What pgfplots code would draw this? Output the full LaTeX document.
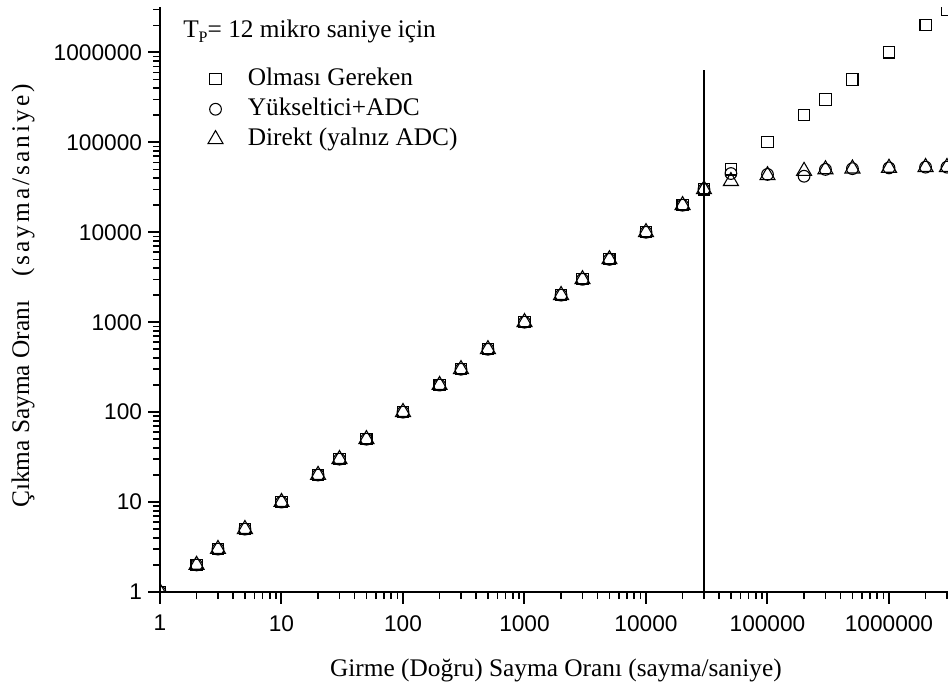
\documentclass[border=0pt]{standalone}
\usepackage{fontspec}
\setmainfont{Liberation Serif}
\newfontfamily\arialf{Liberation Sans}
\usepackage{pgfplots}
\pgfplotsset{compat=1.18}
\newcommand\labfont{\fontsize{19}{22}\selectfont}
\begin{document}
\begin{tikzpicture}
\begin{axis}[
  xmode=log, ymode=log,
  scale only axis,
  width=591pt, height=438.75pt,
  xmin=1, xmax=3.06e6, ymin=1, ymax=3.2e6,
  axis lines=left,
  axis line style={-, line width=1.8pt, black},
  xtick={1,10,100,1000,10000,100000,1000000},
  xticklabels={1,10,100,1000,10000,100000,1000000},
  ytick={1,10,100,1000,10000,100000,1000000},
  yticklabels={1,10,100,1000,10000,100000,1000000},
  minor xtick={2,3,4,5,6,7,8,9,20,30,40,50,60,70,80,90,200,300,400,500,600,700,800,900,2000,3000,4000,5000,6000,7000,8000,9000,20000,30000,40000,50000,60000,70000,80000,90000,200000,300000,400000,500000,600000,700000,800000,900000,2000000,3000000},
  minor ytick={2,3,4,5,6,7,8,9,20,30,40,50,60,70,80,90,200,300,400,500,600,700,800,900,2000,3000,4000,5000,6000,7000,8000,9000,20000,30000,40000,50000,60000,70000,80000,90000,200000,300000,400000,500000,600000,700000,800000,900000,2000000,3000000},
  tick align=outside,
  major tick length=9pt, minor tick length=5.25pt,
  major tick style={line width=1.5pt, black},
  minor tick style={line width=1.2pt, black},
  tick label style={font=\arialf\fontsize{17}{19}\selectfont},
  xticklabel shift=5pt,
  yticklabel shift=1pt,
  xlabel={Girme (Doğru) Sayma Oranı (sayma/saniye)},
  xlabel style={at={(axis description cs:0.5025,-0.1436)}, anchor=base, inner sep=0pt, font=\labfont},
  ylabel={Çıkma Sayma Oranı\hspace{18pt}{\addfontfeatures{LetterSpace=12}(sayma/saniye)}},
  ylabel style={at={(axis description cs:-0.1662,0.1436)}, anchor=base west, inner sep=0pt, font=\labfont},
  clip marker paths=true,
  legend cell align=left,
  legend image code/.code={\draw[#1] plot coordinates {(0pt,0pt)}; \path (-8pt,0pt) (24pt,0pt);},
  legend style={draw=none, fill=none, inner sep=0pt, column sep=0pt, row sep=3.5pt,
    at={(axis description cs:0.05626,0.8986)}, anchor=north west, font=\labfont,
    nodes={inner sep=0pt, font=\labfont, text height=14pt, text depth=5pt}},
]
\addplot[only marks, mark=square, mark size=4.2pt, mark options={draw=black, fill=none, line width=0.8pt}] coordinates {
(1,1) (2,2) (3,3) (5,5) (10,10) (20,20) (30,30) (50,50) (100,100) (200,200) (300,300) (500,500)
(1000,1000) (2000,2000) (3000,3000) (5000,5000) (10000,10000) (20000,20000) (30000,30000)
(50000,50000) (100000,100000) (200000,200000) (300000,300000) (500000,500000)
(1000000,1000000) (2000000,2000000) (3000000,3000000)};
\addlegendentry{Olması Gereken}
\addplot[only marks, mark=o, mark size=4.4pt, mark options={draw=black, fill=none, line width=0.8pt}] coordinates {
(1,1) (2,2) (3,3) (5,5) (10,10) (20,20) (30,30) (50,50) (100,100) (200,200) (300,300) (500,500)
(1000,1000) (2000,2000) (3000,3000) (5000,5000) (10000,10000) (20000,20000) (30000,30000)
(50000,45000) (100000,44000) (200000,42000) (300000,50000) (500000,51000)
(1000000,52000) (2000000,53000) (3000000,53000)};
\addlegendentry{Yükseltici+ADC}
\addplot[only marks, mark=triangle, mark size=6.5pt, mark options={draw=black, fill=none, line width=0.8pt}] coordinates {
(1,1) (2,2) (3,3) (5,5) (10,10) (20,20) (30,30) (50,50) (100,100) (200,200) (300,300) (500,500)
(1000,1000) (2000,2000) (3000,3000) (5000,5000) (10000,10000) (20000,20000) (30000,30000)
(50000,37000) (100000,43000) (200000,48000) (300000,50000) (500000,51000)
(1000000,52000) (2000000,53000) (3000000,53000)};
\addlegendentry{Direkt (yalnız ADC)}
\addplot[black, line width=1.8pt, forget plot] coordinates {(30000,1) (30000,630000)};
\node[anchor=base west, inner sep=0pt, font=\labfont] at (axis description cs:0.02919,0.94872)
  {T\raisebox{-0.45ex}{\fontsize{12}{12}\selectfont P}= 12 mikro saniye için};
\coordinate (BL) at (rel axis cs:0,0);
\coordinate (TR) at (rel axis cs:1,1);
\end{axis}
\pgfresetboundingbox
\path[use as bounding box] ([shift={(-120pt,-68.25pt)}]BL) rectangle ([shift={(0pt,5.25pt)}]TR);
\end{tikzpicture}
\end{document}
